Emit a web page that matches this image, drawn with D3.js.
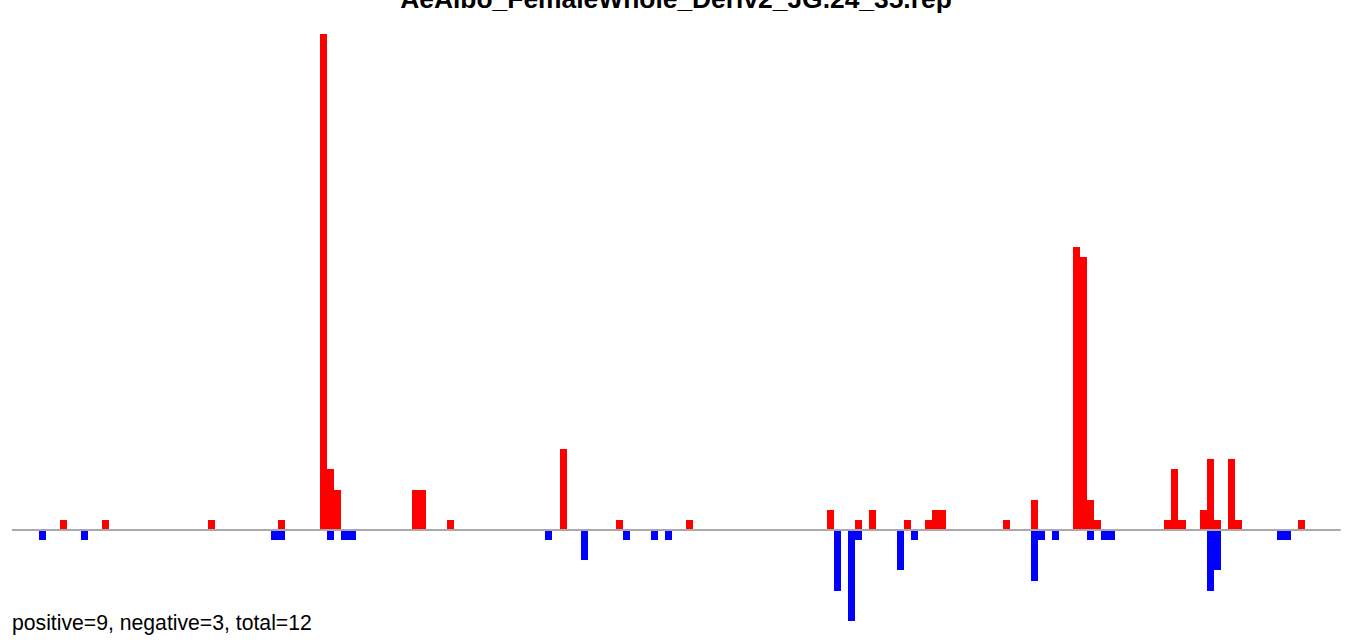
<!DOCTYPE html>
<html>
<head>
<meta charset="utf-8">
<script src="https://cdn.jsdelivr.net/npm/d3@7"></script>
<style>
  html, body { margin: 0; padding: 0; background: #fff; }
  svg { display: block; }
</style>
</head>
<body>
<svg id="chart" width="1352" height="643"></svg>
<script>
// ---- data ----
const titleText = "AeAlbo_FemaleWhole_Deriv2_JG.24_35.rep";
const footerText = "positive=9, negative=3, total=12";

const posBins   = [3, 9, 24, 34, 40, 41, 42, 53, 54, 58, 74, 82, 92, 112, 116, 118, 123, 126, 127, 128, 137, 141, 147, 148, 149, 150, 160, 161, 162, 165, 166, 167, 169, 170, 179];
const posValues = [1, 1, 1, 1, 49, 6, 4, 4, 4, 1, 8, 1, 1, 2, 1, 2, 1, 1, 2, 2, 1, 3, 28, 27, 3, 1, 1, 6, 1, 2, 7, 1, 7, 1, 1];

const negBins   = [0, 6, 33, 34, 41, 43, 44, 72, 77, 83, 87, 89, 113, 115, 116, 122, 124, 141, 142, 144, 149, 151, 152, 166, 167, 176, 177];
const negValues = [1, 1, 1, 1, 1, 1, 1, 1, 3, 1, 1, 1, 6, 9, 1, 4, 1, 5, 1, 1, 1, 1, 1, 6, 4, 1, 1];

const xDomain = [-3.84, 185.06];   // plot region in bin units
const yDomain = [-9.8, 49];

// ---- layout ----
const svg = d3.select("#chart");
const x = d3.scaleLinear().domain(xDomain).range([12, 1340.7]);
const y = d3.scaleLinear().domain([0, 49]).range([530, 34]);
const bw = x(1) - x(0);

const pos = posBins.map((b, i) => ({ b, v: posValues[i] }));
const neg = negBins.map((b, i) => ({ b, v: -negValues[i] }));

svg.append("g").attr("shape-rendering", "crispEdges")
  .selectAll("rect.pos").data(pos).join("rect")
  .attr("x", d => x(d.b))
  .attr("width", bw)
  .attr("y", d => y(d.v))
  .attr("height", d => y(0) - y(d.v))
  .attr("fill", "#ff0000");

svg.append("g").attr("shape-rendering", "crispEdges")
  .selectAll("rect.neg").data(neg).join("rect")
  .attr("x", d => x(d.b))
  .attr("width", bw)
  .attr("y", y(0))
  .attr("height", d => y(d.v) - y(0))
  .attr("fill", "#0000ff");

svg.append("line")
  .attr("x1", x(xDomain[0])).attr("x2", x(xDomain[1]))
  .attr("y1", y(0)).attr("y2", y(0))
  .attr("stroke", "#a9a9a9").attr("stroke-width", 2);

svg.append("text")
  .attr("x", 676).attr("y", 7.5)
  .attr("text-anchor", "middle")
  .attr("font-family", "'Liberation Sans', Arial, sans-serif")
  .attr("font-weight", "bold")
  .attr("font-size", 26.4)
  .attr("fill", "#000")
  .text(titleText);

svg.append("text")
  .attr("x", 12).attr("y", 629.5)
  .attr("font-family", "'Liberation Sans', Arial, sans-serif")
  .attr("font-size", 21.2)
  .attr("fill", "#000")
  .text(footerText);
</script>
</body>
</html>
